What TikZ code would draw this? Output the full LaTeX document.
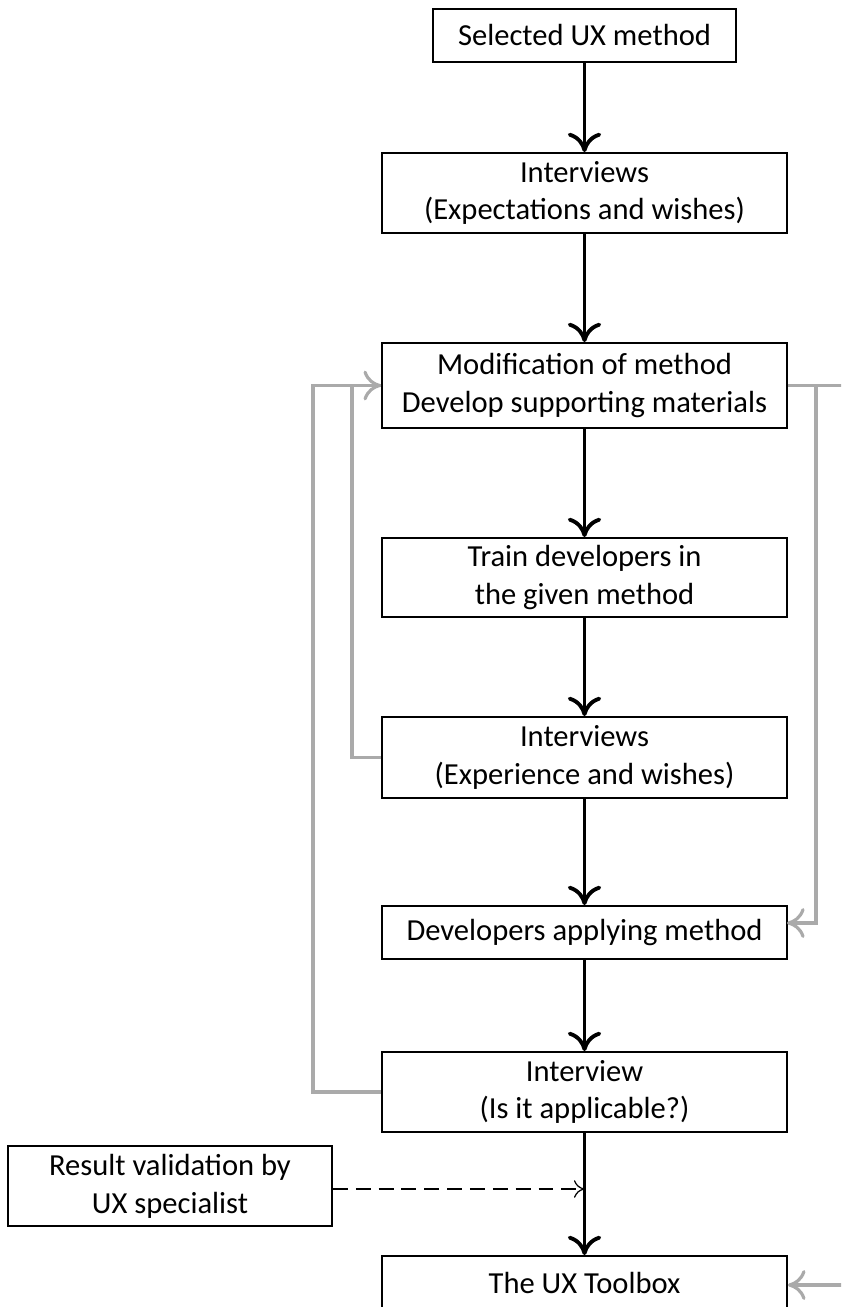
\documentclass[tikz,border=0pt]{standalone}
\usepackage{fontspec}
\setmainfont{Carlito}
\usetikzlibrary{arrows.meta}
\definecolor{loopgray}{RGB}{170,170,170}
\begin{document}
\begin{tikzpicture}[x=0.02cm,y=-0.02cm,
  box/.style={draw=black, line width=1.1pt, inner sep=0pt, align=center,
    minimum width=8.1cm, font=\fontsize{17.4}{21.5}\selectfont},
  flow/.style={black, line width=2.2pt, -{Computer Modern Rightarrow[length=11pt,width=19pt,line width=2.2pt]}},
  loop/.style={loopgray, line width=1.8pt, -{Computer Modern Rightarrow[length=10pt,width=17pt,line width=1.8pt]}},
  loopline/.style={loopgray, line width=1.8pt},
  dashline/.style={black, line width=0.7pt, dash pattern=on 8.5pt off 4.5pt,
    -{Computer Modern Rightarrow[length=6pt,width=10pt,line width=0.7pt]}}]
\clip (0,0) rectangle (841,1307);
% main steps
\node[box, minimum width=6.06cm, minimum height=1.06cm] (b1) at (584.5,35.5) {Selected UX method};
\node[box, minimum height=1.6cm] (b2) at (584.5,193) {Interviews\\(Expectations and wishes)};
\node[box, minimum height=1.7cm] (b3) at (584.5,385.5) {Modification of method\\Develop supporting materials};
\node[box, minimum height=1.58cm] (b4) at (584.5,577.5) {Train developers in\\the given method};
\node[box, minimum height=1.62cm] (b5) at (584.5,757.5) {Interviews\\(Experience and wishes)};
\node[box, minimum height=1.06cm] (b6) at (584.5,932.5) {Developers applying method};
\node[box, minimum height=1.6cm] (b7) at (584.5,1092) {Interview\\(Is it applicable?)};
\node[box, minimum width=6.48cm, minimum height=1.6cm] (b8) at (170,1186) {Result validation by\\UX specialist};
\node[box, minimum height=1.06cm] (b9) at (584.5,1282.5) {The UX Toolbox};
% helper points
\coordinate (join) at (584.5,1189);
\coordinate (b6in) at (787,923);
\coordinate (rt) at (816,385.5);
\coordinate (off3) at (850,385.5);
\coordinate (off9) at (850,1285);
% flow
\draw[flow] (b1) -- (b2);
\draw[flow] (b2) -- (b3);
\draw[flow] (b3) -- (b4);
\draw[flow] (b4) -- (b5);
\draw[flow] (b5) -- (b6);
\draw[flow] (b6) -- (b7);
\draw[flow] (b7) -- (b9);
\draw[dashline] (b8.east |- join) -- (join);
% feedback loops
\draw[loop] (b7.west) -- ++(-68,0) |- (b3.west);
\draw[loopline] (b5.west) -- ++(-29,0) |- (b3.west);
\draw[loopline] (b3.east) -- (off3);
\draw[loop] (rt) |- (b6in);
\draw[loop] (off9) -- (b9.east |- off9);
\end{tikzpicture}
\end{document}
